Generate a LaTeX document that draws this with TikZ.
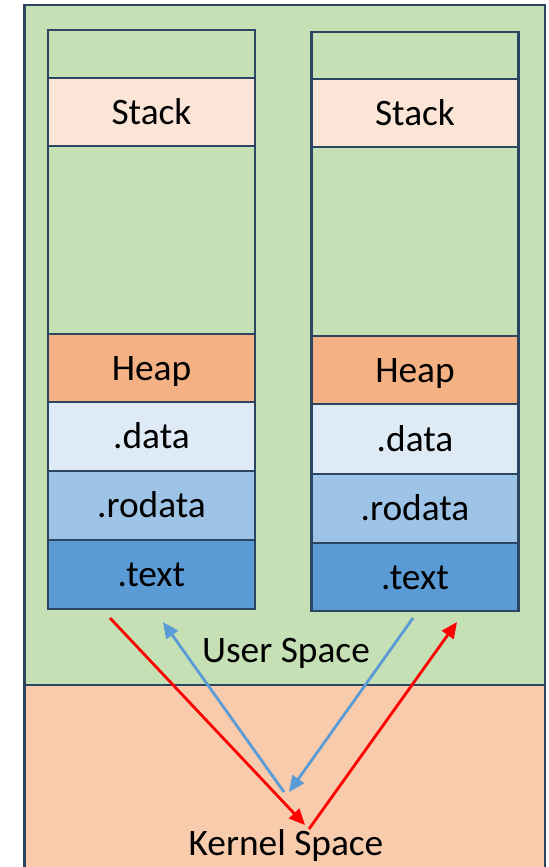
\documentclass[tikz,border=0pt]{standalone}
\usepackage{fontspec}
\setmainfont{Carlito}
\usetikzlibrary{arrows.meta}

\definecolor{userbg}{HTML}{C5E0B4}
\definecolor{kernelbg}{HTML}{F8CBAD}
\definecolor{stackc}{HTML}{FBE5D6}
\definecolor{heapc}{HTML}{F4B183}
\definecolor{datac}{HTML}{DEEBF7}
\definecolor{rodatac}{HTML}{9DC3E6}
\definecolor{textc}{HTML}{5B9BD5}
\definecolor{edgec}{HTML}{2C4560}
\definecolor{callred}{HTML}{FF0000}
\definecolor{callblue}{HTML}{5B9BD5}

\begin{document}
\begin{tikzpicture}[x=1bp, y=-1bp,
  lbl/.style={font=\fontsize{37.5}{41}\selectfont, inner sep=0pt, text height=24bp, text depth=0bp},
  seg/.style={lbl, draw=edgec, line width=2.4bp, minimum width=207bp, anchor=north},
  space/.style={draw=edgec, line width=2.8bp},
  redcall/.style={draw=callred, line width=2.8bp, -{Triangle[length=16bp, width=14bp]}},
  bluecall/.style={draw=callblue, line width=2.8bp, -{Triangle[length=16bp, width=14bp]}}
]
\useasboundingbox (0,0) rectangle (549,867);
\clip (0,0) rectangle (549,867);

% user and kernel space regions
\draw[space, fill=userbg] (24.5,5) rectangle (545,685);
\draw[space, fill=kernelbg] (24.5,685) rectangle (545,880);

% left process address space
\node[seg, fill=userbg,   minimum height=48bp]  (lfree)  at (151.5,29)  {};
\node[seg, fill=stackc,   minimum height=68bp]  (lstack) at (151.5,77)  {Stack};
\node[seg, fill=userbg,   minimum height=188bp] (lgap)   at (151.5,145) {};
\node[seg, fill=heapc,    minimum height=68bp]  (lheap)  at (151.5,333) {Heap};
\node[seg, fill=datac,    minimum height=69bp]  (ldata)  at (151.5,401) {.data};
\node[seg, fill=rodatac,  minimum height=69bp]  (lro)    at (151.5,470) {.rodata};
\node[seg, fill=textc,    minimum height=69bp]  (ltext)  at (151.5,539) {.text};

% right process address space
\node[seg, fill=userbg,   minimum height=47bp]  (rfree)  at (415,31)  {};
\node[seg, fill=stackc,   minimum height=68bp]  (rstack) at (415,78)  {Stack};
\node[seg, fill=userbg,   minimum height=189bp] (rgap)   at (415,146) {};
\node[seg, fill=heapc,    minimum height=68bp]  (rheap)  at (415,335) {Heap};
\node[seg, fill=datac,    minimum height=70bp]  (rdata)  at (415,403) {.data};
\node[seg, fill=rodatac,  minimum height=69bp]  (rro)    at (415,473) {.rodata};
\node[seg, fill=textc,    minimum height=68bp]  (rtext)  at (415,542) {.text};

% region labels
\node[lbl] (user)   at (286,650)   {User Space};
\node[lbl] (kernel) at (286,843.5) {Kernel Space};

% end points of the system call arrows
\coordinate (ra) at (110,618);
\coordinate (rb) at (305,825);
\coordinate (ba) at (284,792);
\coordinate (bb) at (163,622);
\coordinate (bc) at (413,618);
\coordinate (bd) at (289,792);
\coordinate (rc) at (309,829);
\coordinate (rd) at (457,622);

\draw[redcall]  (ra) -- (rb);
\draw[bluecall] (ba) -- (bb);
\draw[bluecall] (bc) -- (bd);
\draw[redcall]  (rc) -- (rd);
\end{tikzpicture}
\end{document}
